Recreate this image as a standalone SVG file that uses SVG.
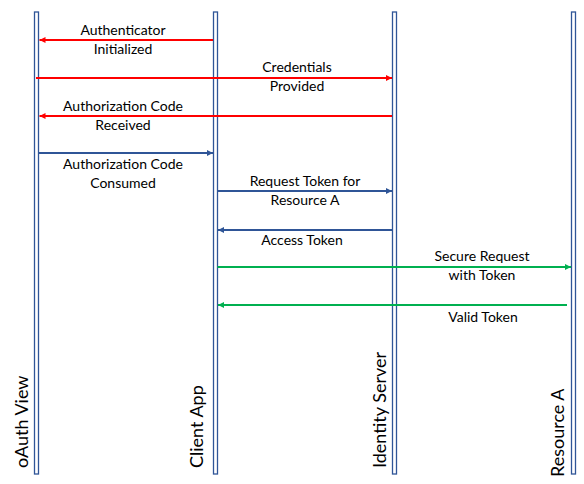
<svg xmlns="http://www.w3.org/2000/svg" width="584" height="484" viewBox="0 0 584 484">
<style>
.bar{fill:#fff;stroke:#2F5597;stroke-width:1.3}
.lbl{font-family:"Lato","Carlito","Liberation Sans",sans-serif;font-size:18px;fill:#000}
.msg{font-family:"Lato","Carlito","Liberation Sans",sans-serif;font-size:14px;fill:#000;text-anchor:middle}
.red{stroke:#FF0000;stroke-width:2.2;fill:none}
.blue{stroke:#2F5597;stroke-width:1.8;fill:none}
.green{stroke:#00B050;stroke-width:2.2;fill:none}
</style>
<defs>
<marker id="ar" markerUnits="userSpaceOnUse" markerWidth="7" markerHeight="7" refX="6" refY="3.5" orient="auto"><path d="M0,0.5 L6,3.5 L0,6.5 z" fill="#FF0000"/></marker>
<marker id="ab" markerUnits="userSpaceOnUse" markerWidth="7" markerHeight="7" refX="6" refY="3.5" orient="auto"><path d="M0,0.5 L6,3.5 L0,6.5 z" fill="#2F5597"/></marker>
<marker id="ag" markerUnits="userSpaceOnUse" markerWidth="7" markerHeight="7" refX="6" refY="3.5" orient="auto"><path d="M0,0.5 L6,3.5 L0,6.5 z" fill="#00B050"/></marker>
</defs>
<rect width="584" height="484" fill="#fff"/>
<g id="oauth-view">
<rect class="bar" x="34.5" y="12" width="4" height="462"/>
<text class="lbl" transform="translate(27.5,468) rotate(-90)">oAuth View</text>
</g>
<g id="client-app">
<rect class="bar" x="213.5" y="12" width="4" height="462"/>
<text class="lbl" transform="translate(203,468) rotate(-90)">Client App</text>
</g>
<g id="identity-server">
<rect class="bar" x="392.5" y="12" width="4" height="462"/>
<text class="lbl" transform="translate(386,468) rotate(-90)">Identity Server</text>
</g>
<g id="resource-a">
<rect class="bar" x="571.5" y="12" width="4" height="462"/>
<text class="lbl" transform="translate(564,477) rotate(-90)">Resource A</text>
</g>
<g id="connectors">
<line class="red" x1="213" y1="40" x2="39.5" y2="40" marker-end="url(#ar)"/>
<line class="red" x1="36" y1="78" x2="392" y2="78" marker-end="url(#ar)"/>
<line class="red" x1="392" y1="116" x2="39.5" y2="116" marker-end="url(#ar)"/>
<line class="blue" x1="38.5" y1="153" x2="213" y2="153" marker-end="url(#ab)"/>
<line class="blue" x1="217.5" y1="191" x2="392" y2="191" marker-end="url(#ab)"/>
<line class="blue" x1="392" y1="230" x2="218" y2="230" marker-end="url(#ab)"/>
<line class="green" x1="217.5" y1="267" x2="571" y2="267" marker-end="url(#ag)"/>
<line class="green" x1="567" y1="305" x2="218" y2="305" marker-end="url(#ag)"/>
<text class="msg" x="123" y="35">Authenticator</text>
<text class="msg" x="123" y="54">Initialized</text>
<text class="msg" x="297" y="72">Credentials</text>
<text class="msg" x="297" y="91">Provided</text>
<text class="msg" x="123" y="111">Authorization Code</text>
<text class="msg" x="123" y="130">Received</text>
<text class="msg" x="123" y="169">Authorization Code</text>
<text class="msg" x="123" y="188">Consumed</text>
<text class="msg" x="305" y="186">Request Token for</text>
<text class="msg" x="305" y="205">Resource A</text>
<text class="msg" x="302" y="245">Access Token</text>
<text class="msg" x="482" y="261">Secure Request</text>
<text class="msg" x="482" y="280">with Token</text>
<text class="msg" x="483" y="322">Valid Token</text>
</g>
</svg>
